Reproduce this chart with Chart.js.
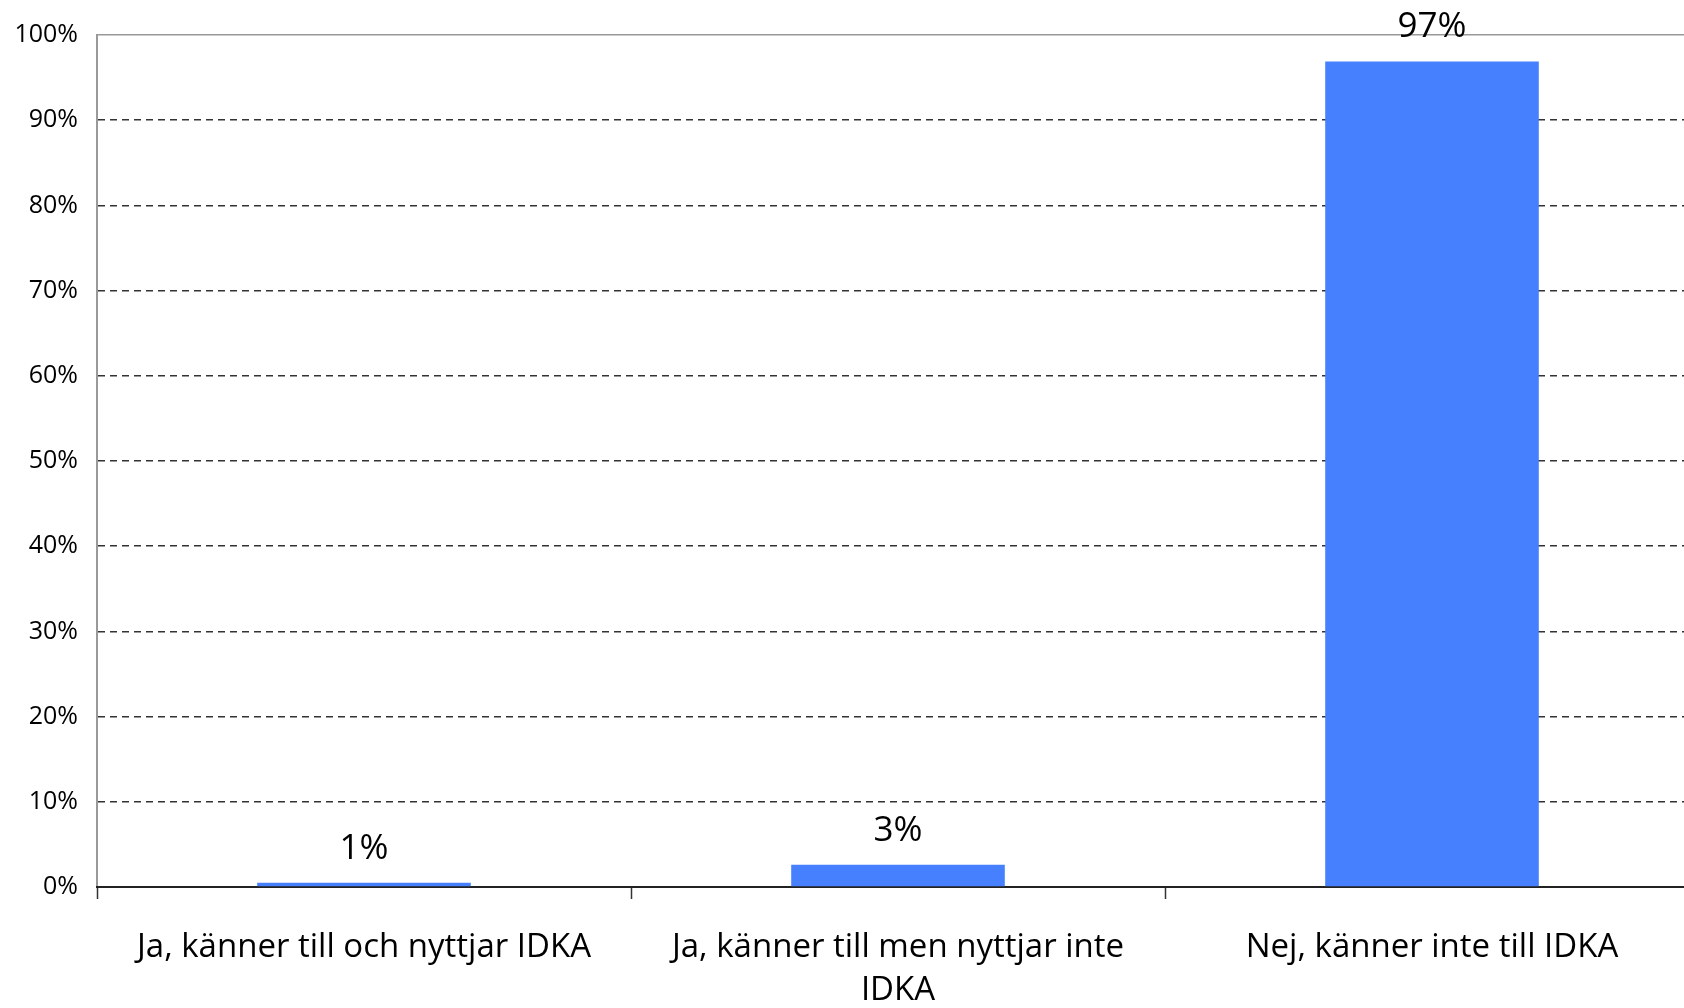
<!DOCTYPE html>
<html>
<head>
<meta charset="utf-8">
<script src="https://cdn.jsdelivr.net/npm/chart.js@4/dist/chart.umd.min.js"></script>
<style>
  html, body { margin: 0; padding: 0; background: #fff; overflow: hidden; }
  #wrap { width: 1700px; height: 1008px; }
</style>
</head>
<body>
<div id="wrap"><canvas id="chart1"></canvas></div>
<script>
// chart data
const categories = [
  'Ja, känner till och nyttjar IDKA',
  ['Ja, känner till men nyttjar inte', 'IDKA'],
  'Nej, känner inte till IDKA'
];
const shares = [0.5, 2.6, 96.9];
const shareLabels = ['1%', '3%', '97%'];
const yTicks = [0, 10, 20, 30, 40, 50, 60, 70, 80, 90, 100];

const FONT = '"Open Sans", Lato, sans-serif';

// draws the percent text above each bar
const valueLabels = {
  id: 'valueLabels',
  afterDatasetsDraw(chart) {
    const ctx = chart.ctx;
    const meta = chart.getDatasetMeta(0);
    ctx.save();
    ctx.font = '500 35px ' + FONT;
    ctx.fillStyle = '#000';
    ctx.textAlign = 'center';
    ctx.textBaseline = 'middle';
    meta.data.forEach((bar, i) => {
      ctx.fillText(shareLabels[i], bar.x, bar.y - 34);
    });
    ctx.restore();
  }
};

new Chart(document.getElementById('chart1'), {
  type: 'bar',
  data: {
    labels: categories,
    datasets: [{
      data: shares,
      backgroundColor: '#4680ff',
      borderWidth: 0,
      categoryPercentage: 0.4,
      barPercentage: 1.0
    }]
  },
  options: {
    responsive: true,
    maintainAspectRatio: false,
    animation: false,
    layout: { padding: { top: 35, right: 1, left: 0, bottom: 0 } },
    plugins: { legend: { display: false }, tooltip: { enabled: false } },
    scales: {
      y: {
        min: 0,
        max: 100,
        afterBuildTicks: axis => { axis.ticks = yTicks.map(v => ({ value: v })); },
        afterFit: axis => { axis.width = 97; },
        ticks: {
          padding: 19,
          color: '#000',
          font: { family: FONT, size: 25, weight: '500' },
          callback: v => v + '%'
        },
        grid: {
          drawTicks: false,
          color: ctx => ctx.tick && ctx.tick.value === 100 ? '#999' : '#333',
          lineWidth: 1.5
        },
        border: {
          color: '#999',
          width: 2,
          dash: ctx => ctx.tick && ctx.tick.value === 100 ? [] : [7, 5]
        }
      },
      x: {
        afterFit: axis => { axis.height = 121; },
        ticks: {
          padding: 27,
          color: '#000',
          font: { family: FONT, size: 33, weight: '500', lineHeight: 1.3 }
        },
        grid: {
          offset: true,
          drawOnChartArea: false,
          drawTicks: true,
          tickLength: 12,
          tickColor: '#333',
          tickWidth: 1.5
        },
        border: { color: '#222', width: 2 }
      }
    }
  },
  plugins: [valueLabels]
});
</script>
</body>
</html>
